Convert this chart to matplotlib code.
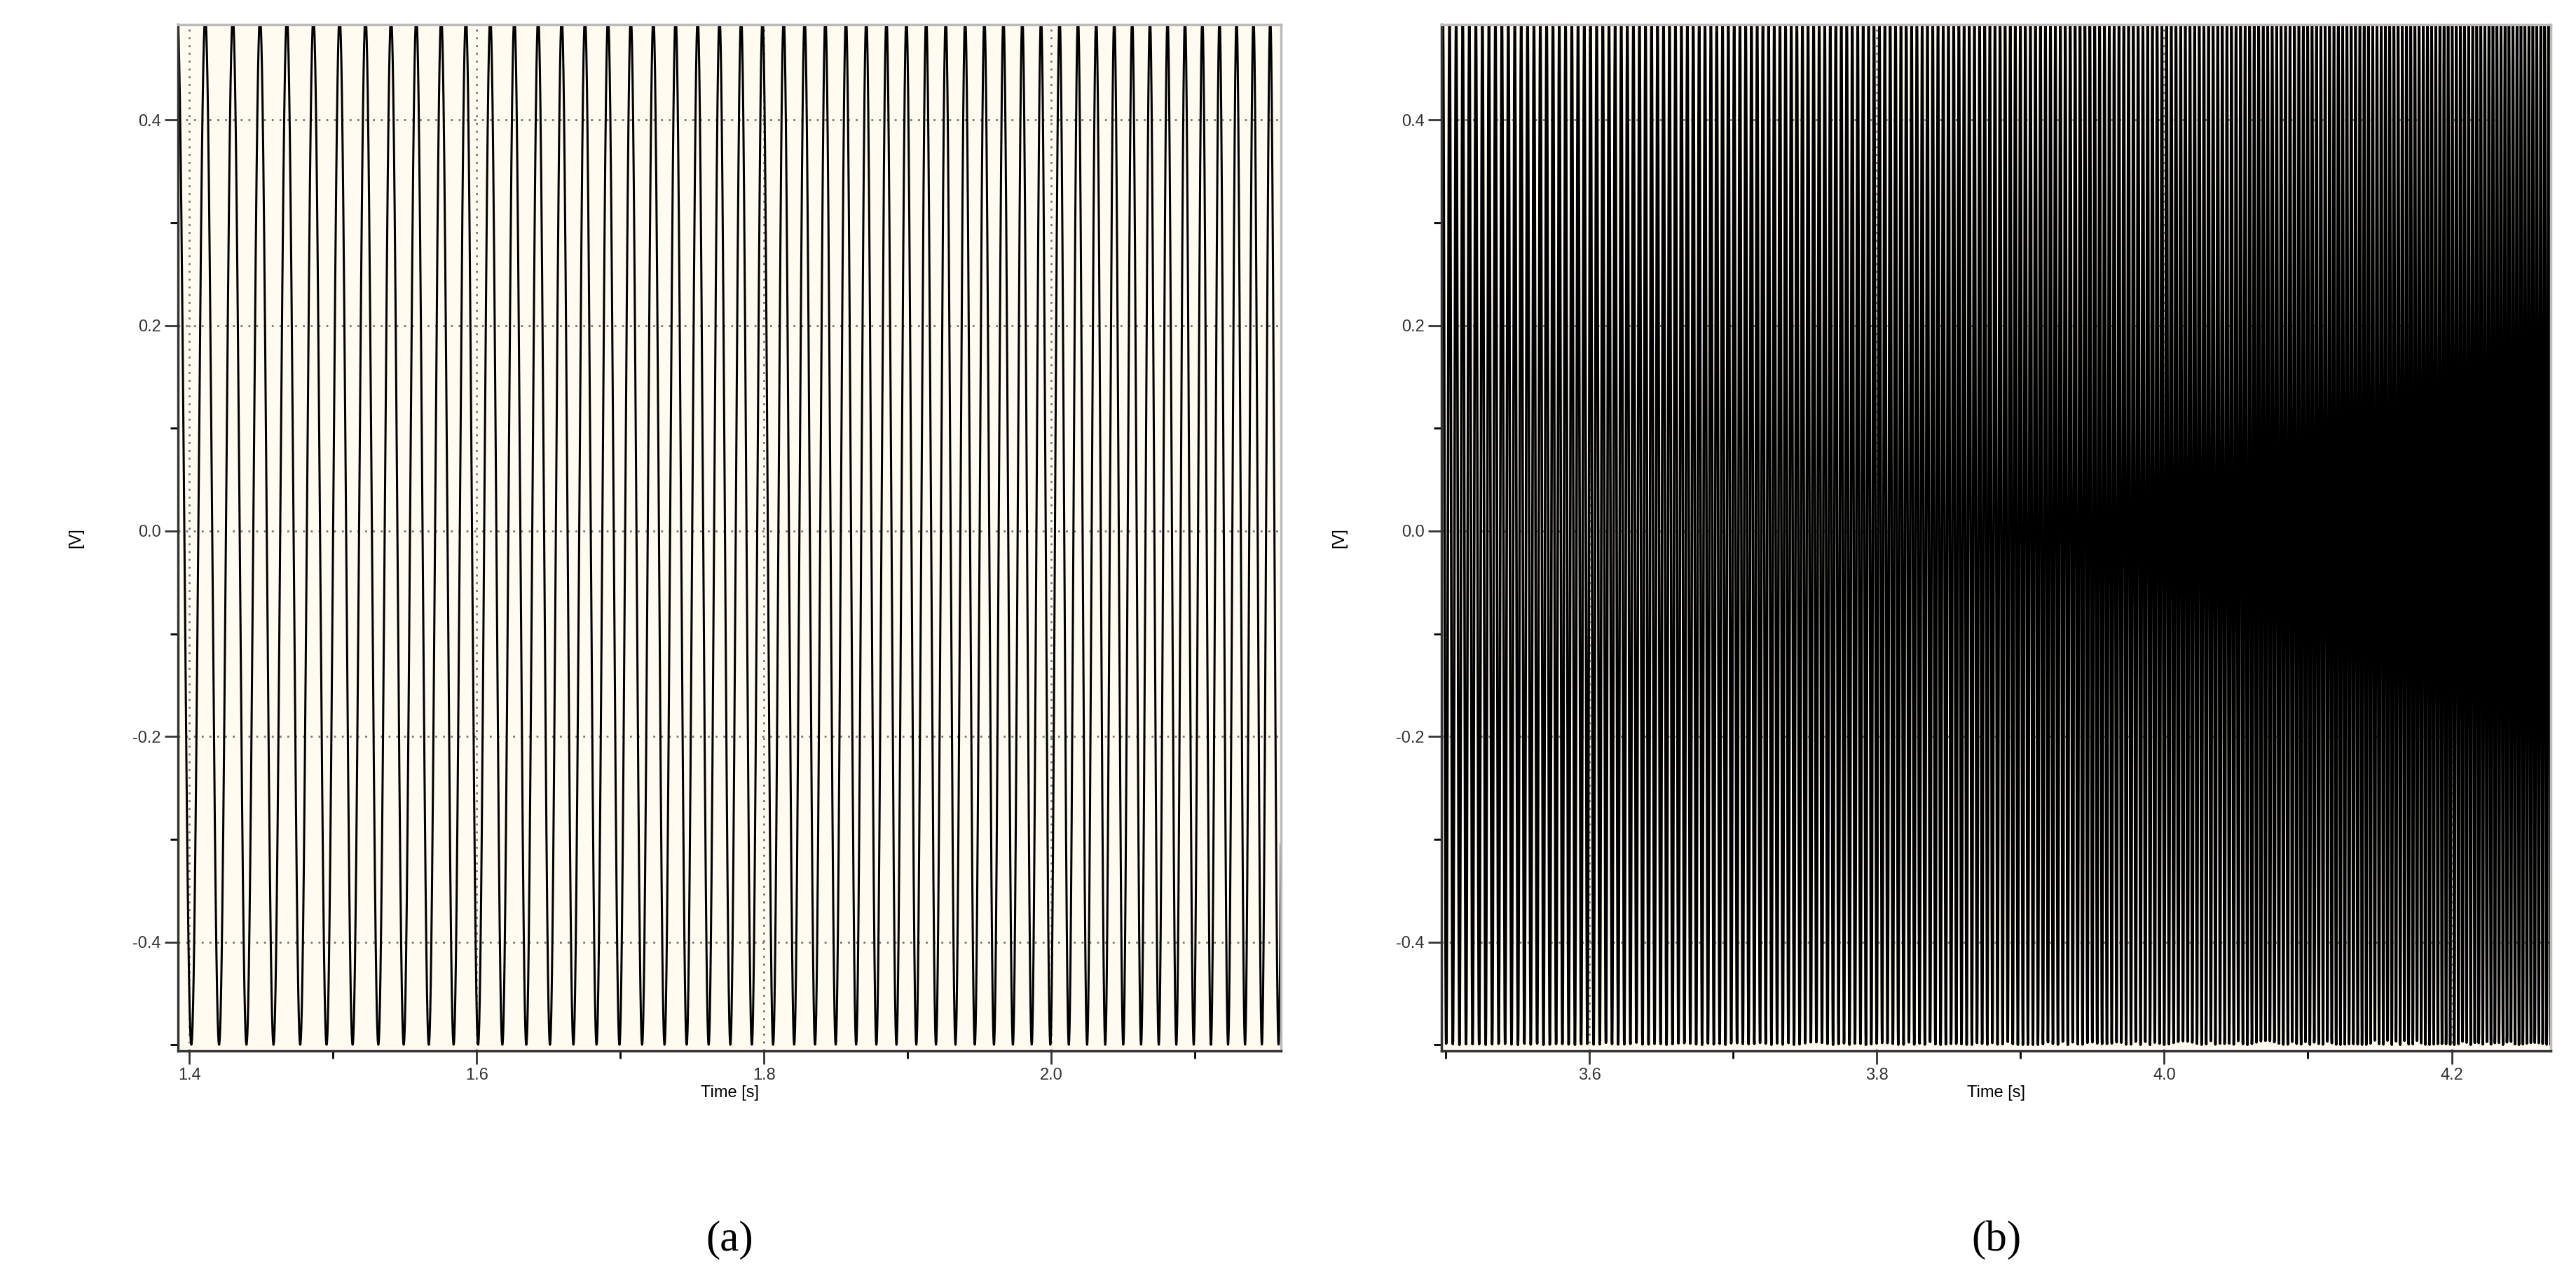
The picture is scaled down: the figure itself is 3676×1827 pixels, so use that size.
import numpy as np
import matplotlib.pyplot as plt
from matplotlib.ticker import MultipleLocator

# exponential chirp: ~55 Hz at 1.5 s, ~80 Hz at 2.08 s, ~240 Hz at 3.65 s
chirp_t0 = 1.5          # s
chirp_f0 = 55.0         # Hz at chirp_t0
chirp_growth = 0.685    # 1/s
amplitude = 0.5         # V
sample_rate = 8000.0    # Hz, recorder sampling

panel_xlim = [(1.392, 2.16), (3.497, 4.269)]
panel_xticks = [[1.4, 1.6, 1.8, 2.0], [3.6, 3.8, 4.0, 4.2]]
panel_labels = ['a', 'b']
panel_lw = [2.2, 2.6]
yticks = [-0.4, -0.2, 0.0, 0.2, 0.4]

plt.rcParams['font.family'] = ['Liberation Sans', 'DejaVu Sans']
fig = plt.figure(figsize=(36.76, 18.27), dpi=100)
W, H = 3676, 1827
boxes = [(254, 35, 1828, 1500), (2057, 35, 3640, 1500)]

for box, xlim, xt, lab, lw in zip(boxes, panel_xlim, panel_xticks, panel_labels, panel_lw):
    x0, y0, x1, y1 = box
    ax = fig.add_axes([x0 / W, 1 - y1 / H, (x1 - x0) / W, (y1 - y0) / H])
    ax.set_facecolor('#fffbf0')
    t = np.arange(xlim[0], xlim[1], 1 / sample_rate)
    phase = 2 * np.pi * chirp_f0 / chirp_growth * (np.exp(chirp_growth * (t - chirp_t0)) - 1)
    ax.plot(t, amplitude * np.sin(phase), color='black', lw=lw)
    ax.set_xlim(xlim)
    ax.set_ylim(-0.506, 0.493)
    ax.set_xticks(xt)
    ax.set_xticklabels([f'{v:.1f}' for v in xt])
    ax.xaxis.set_minor_locator(MultipleLocator(0.1))
    ax.set_yticks(yticks)
    ax.set_yticklabels([f'{v:.1f}' for v in yticks])
    ax.yaxis.set_minor_locator(MultipleLocator(0.1))
    ax.grid(True, which='major', color='#777777', ls=(0, (1, 3)), lw=2)
    ax.tick_params(labelsize=17, length=14, width=2, colors='#333333')
    ax.tick_params(which='minor', length=8, width=2)
    for s in ['top', 'right']:
        ax.spines[s].set_color('#bbbbbb')
    for s in ['left', 'bottom']:
        ax.spines[s].set_color('#333333')
    for s in ax.spines.values():
        s.set_linewidth(2.5)
    ax.set_xlabel('Time [s]', fontsize=17, labelpad=2)
    ax.set_ylabel('[V]', fontsize=17, labelpad=50)
    fig.text((x0 + x1) / 2 / W, 1 - 1770 / H, f'({lab})', ha='center', va='center',
             fontsize=44, family='Liberation Serif')

fig.savefig('out.png', dpi=100)
